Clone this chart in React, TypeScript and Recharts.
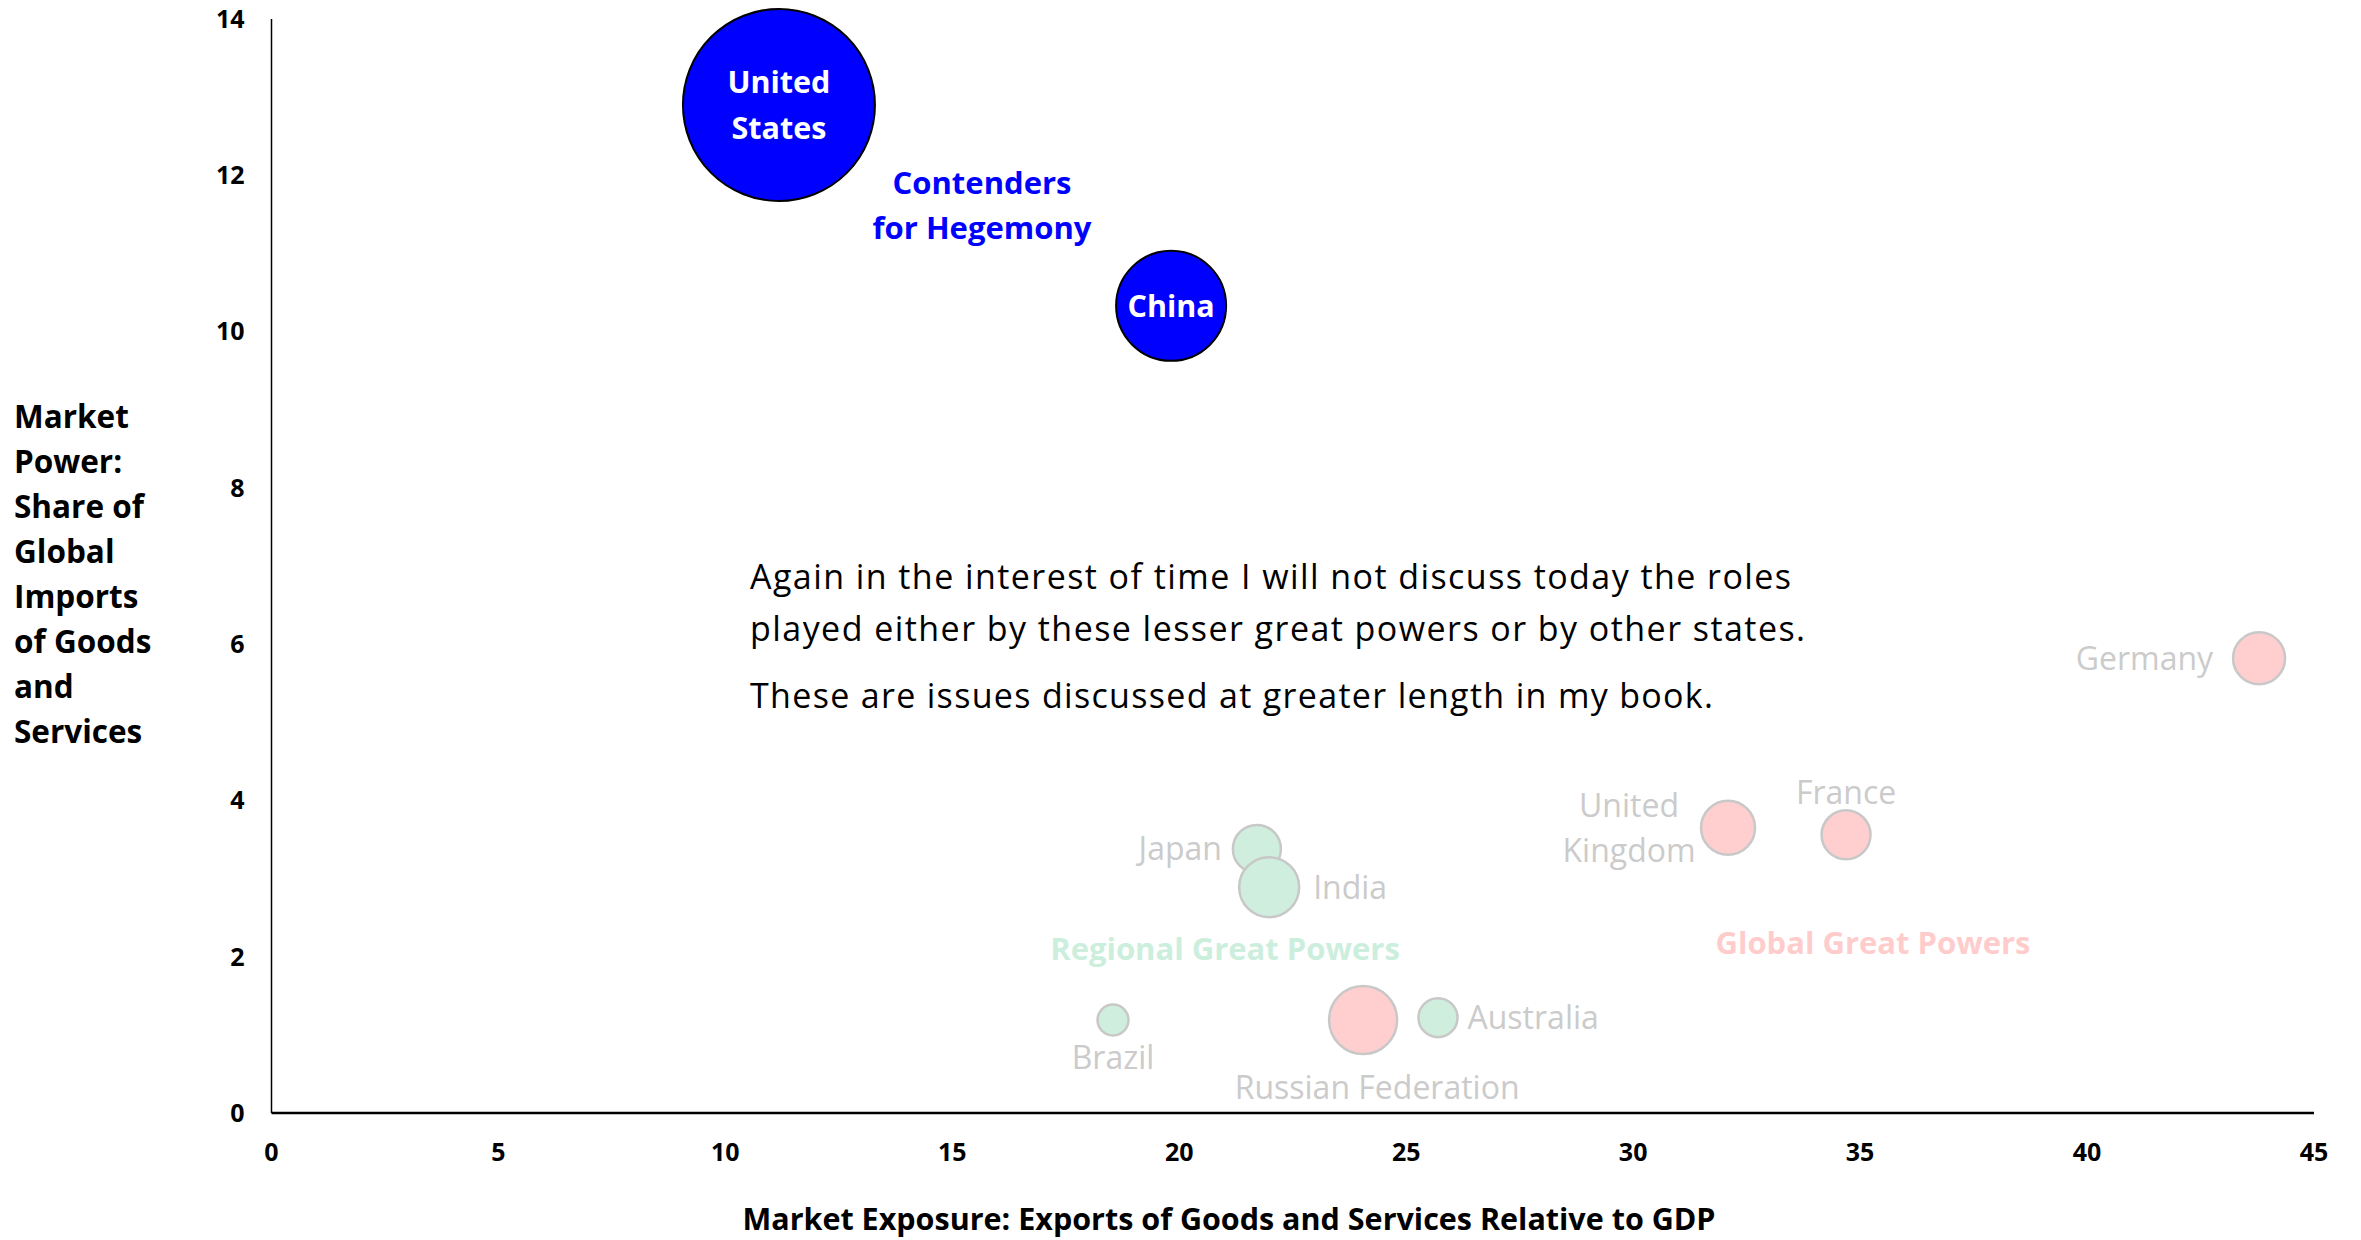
import React from 'react';
import { ScatterChart, Scatter, XAxis, YAxis, ZAxis, Customized } from 'recharts';

// ---------- data ----------
const contenderNames = ['United States', 'China'];
const contenderX = [11.18, 19.82];
const contenderY = [12.9, 10.33];
const contenderSize = [600, 197];

const globalNames = ['Germany', 'United Kingdom', 'France', 'Russian Federation'];
const globalX = [43.79, 32.09, 34.69, 24.05];
const globalY = [5.82, 3.65, 3.56, 1.19];
const globalSize = [44, 47.5, 39, 75.3];

const regionalNames = ['Japan', 'India', 'Brazil', 'Australia'];
const regionalX = [21.71, 21.98, 18.54, 25.7];
const regionalY = [3.38, 2.89, 1.19, 1.22];
const regionalSize = [37.5, 58.6, 15.6, 24.8];

const xTicks = [0, 5, 10, 15, 20, 25, 30, 35, 40, 45];
const yTicks = [0, 2, 4, 6, 8, 10, 12, 14];

const xTitle = 'Market Exposure: Exports of Goods and Services Relative to GDP';
const yTitleLines = ['Market', 'Power:', 'Share of', 'Global', 'Imports', 'of Goods', 'and', 'Services'];
const contendersLabel = ['Contenders', 'for Hegemony'];
const globalLabel = 'Global Great Powers';
const regionalLabel = 'Regional Great Powers';
const noteLines = [
  'Again in the interest of time I will not discuss today the roles',
  'played either by these lesser great powers or by other states.',
  'These are issues discussed at greater length in my book.',
];

const build = (names: string[], xs: number[], ys: number[], zs: number[]) =>
  names.map((name, i) => ({ name, x: xs[i], y: ys[i], z: zs[i] }));

const contenders = build(contenderNames, contenderX, contenderY, contenderSize);
const globals = build(globalNames, globalX, globalY, globalSize);
const regionals = build(regionalNames, regionalX, regionalY, regionalSize);

// ---------- styles ----------
const FONT = '"Open Sans", "Noto Sans", sans-serif';
const LABEL_GREY = '#CBCBCB';
const BUBBLE_STROKE = '#C8C8C8';

const labelLines: Record<string, string[]> = {
  'United States': ['United', 'States'],
  'United Kingdom': ['United', 'Kingdom'],
};

type Place = { pos: 'left' | 'right' | 'above' | 'below' | 'center'; gap: number; dx?: number; lineGap?: number };
const placement: Record<string, Place> = {
  'United States': { pos: 'center', gap: 0, lineGap: 46 },
  China: { pos: 'center', gap: 0 },
  Germany: { pos: 'left', gap: 20 },
  'United Kingdom': { pos: 'left', gap: 8, lineGap: 45 },
  France: { pos: 'above', gap: 18 },
  'Russian Federation': { pos: 'below', gap: 34, dx: 14 },
  Japan: { pos: 'left', gap: 11 },
  India: { pos: 'right', gap: 14 },
  Brazil: { pos: 'below', gap: 22 },
  Australia: { pos: 'right', gap: 10 },
};

const makeShape =
  (fill: string, stroke: string, strokeWidth: number, textColor: string, bold: boolean, fontSize: number) =>
  (props: any) => {
    const { cx, cy, payload } = props;
    const r = props.width ? props.width / 2 : Math.sqrt((props.size || 0) / Math.PI);
    const name: string = payload.name;
    const lines = labelLines[name] || [name];
    const p = placement[name] || { pos: 'right', gap: 8 };
    const lineGap = p.lineGap || fontSize * 1.5;
    const capHalf = fontSize * 0.357;
    let anchor: 'start' | 'middle' | 'end' = 'middle';
    let lx = cx + (p.dx || 0);
    let ly = cy;
    if (p.pos === 'left') {
      anchor = lines.length > 1 ? 'middle' : 'end';
      lx = cx - r - p.gap;
    } else if (p.pos === 'right') {
      anchor = 'start';
      lx = cx + r + p.gap;
    } else if (p.pos === 'above') {
      ly = cy - r - p.gap;
    } else if (p.pos === 'below') {
      ly = cy + r + p.gap;
    }
    const total = (lines.length - 1) * lineGap;
    return (
      <g>
        <circle cx={cx} cy={cy} r={r} fill={fill} stroke={stroke} strokeWidth={strokeWidth} />
        <text
          textAnchor={anchor}
          fontFamily={FONT}
          fontWeight={bold ? 700 : 400}
          fontSize={fontSize}
          fill={textColor}
        >
          {lines.map((ln, i) => {
            let x = lx;
            if (p.pos === 'left' && lines.length > 1) x = lx - 64;
            return (
              <tspan key={i} x={x} y={ly - total / 2 + i * lineGap + capHalf}>
                {ln}
              </tspan>
            );
          })}
        </text>
      </g>
    );
  };

const contenderShape = makeShape('#0000FF', '#000000', 2, '#FFFFFF', true, 30.5);
const globalShape = makeShape('#FFCFCF', BUBBLE_STROKE, 2.5, LABEL_GREY, false, 32);
const regionalShape = makeShape('#CFEEDD', BUBBLE_STROKE, 2.5, LABEL_GREY, false, 32);

const noteY = [577, 629, 696];
const noteWidth = [1041, 1055, 963];

const Annotations = () => {
  const cap = (fs: number) => fs * 0.357;
  return (
    <g fontFamily={FONT}>
      {yTitleLines.map((ln, i) => (
        <text key={ln} x={14} y={417 + i * 45 + cap(31.5)} fontSize={31.5} fontWeight={700} fill="#000">
          {ln}
        </text>
      ))}
      <text x={1229} y={1230} fontSize={30.5} fontWeight={700} fill="#000" textAnchor="middle">
        {xTitle}
      </text>
      {contendersLabel.map((ln, i) => (
        <text key={ln} x={982} y={183 + i * 45 + cap(31)} fontSize={31} fontWeight={700} fill="#0000FF" textAnchor="middle">
          {ln}
        </text>
      ))}
      <text x={1873} y={943 + cap(31)} fontSize={31} fontWeight={700} fill="#FFCCCC" textAnchor="middle">
        {globalLabel}
      </text>
      <text x={1225} y={949 + cap(31)} fontSize={31} fontWeight={700} fill="#CCEEDD" textAnchor="middle">
        {regionalLabel}
      </text>
      {noteLines.map((ln, i) => (
        <text
          key={i}
          x={750}
          y={noteY[i] + cap(34)}
          fontSize={34}
          fill="#000"
          textLength={noteWidth[i]}
          lengthAdjust="spacing"
        >
          {ln}
        </text>
      ))}
    </g>
  );
};

const tickStyle = { fontFamily: FONT, fontWeight: 700, fontSize: 25, fill: '#000' };

export default function App() {
  return (
    <div style={{ position: 'absolute', left: 0, top: 0, width: 2361, height: 1240, background: '#fff' }}>
      <ScatterChart width={2361} height={1240} margin={{ top: 19, right: 47, bottom: 0, left: 0 }}>
        <XAxis
          type="number"
          dataKey="x"
          domain={[0, 45]}
          ticks={xTicks}
          interval={0}
          height={127}
          tickLine={false}
          tickSize={0}
          tickMargin={30}
          axisLine={{ stroke: '#000', strokeWidth: 2.5 }}
          tick={tickStyle}
        />
        <YAxis
          type="number"
          dataKey="y"
          domain={[0, 14]}
          ticks={yTicks}
          interval={0}
          width={271.5}
          tickLine={false}
          tickSize={0}
          tickMargin={27}
          axisLine={{ stroke: '#000', strokeWidth: 1.5 }}
          tick={tickStyle}
        />
        <ZAxis type="number" dataKey="z" domain={[0, 600]} range={[0, Math.PI * 96 * 96]} />
        <Scatter data={regionals} shape={regionalShape} isAnimationActive={false} />
        <Scatter data={globals} shape={globalShape} isAnimationActive={false} />
        <Scatter data={contenders} shape={contenderShape} isAnimationActive={false} />
        <Customized component={Annotations} />
      </ScatterChart>
    </div>
  );
}
